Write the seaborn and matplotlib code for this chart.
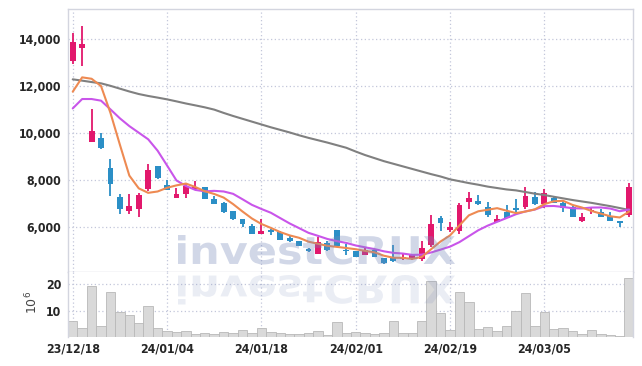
import numpy as np
import pandas as pd
import matplotlib
matplotlib.use("Agg")
import matplotlib.pyplot as plt
import seaborn as sns
from matplotlib.textpath import TextPath
from matplotlib.patches import PathPatch
from matplotlib.font_manager import FontProperties
from matplotlib.transforms import Affine2D
from matplotlib.ticker import FuncFormatter

# ---------------- data ----------------
date_labels = ["23/12/18", "24/01/04", "24/01/18", "24/02/01", "24/02/19", "24/03/05"]
date_label_pos = [0, 10, 20, 30, 40, 50]

open_ = [13066, 13617, 9626, 9796, 8522, 7265, 6696, 6781, 7631, 8594,
         7788, 7250, 7393, 7618, 7690, 7193, 7036, 6684, 6357, 6047,
         5720, 5877, 5792, 5537, 5410, 5083, 4871, 5325, 5877, 5028,
         4998, 4801, 5028, 4688, 4716, 4633, 4660, 4660, 5253, 6400,
         5890, 5834, 7053, 7108, 6867, 6230, 6654, 6824, 6854, 7292,
         6981, 7250, 7036, 6867, 6259, 6670, 6641, 6471, 6259, 6501]
high = [14254, 14539, 11002, 9996, 8878, 7393, 7393, 7461, 8666, 8600,
        8000, 7674, 7887, 7958, 7700, 7321, 7050, 6690, 6360, 6119,
        6331, 5932, 5834, 5622, 5420, 5125, 5593, 5395, 5877, 5283,
        5000, 5142, 5070, 4700, 5240, 4845, 4870, 5423, 6514, 6471,
        6230, 7011, 7490, 7350, 7079, 6501, 6926, 7180, 7690, 7478,
        7605, 7292, 7151, 6909, 6612, 6867, 6756, 6654, 6260, 7860]
low = [12925, 12840, 9626, 9329, 7321, 6556, 6556, 6442, 7546, 8030,
       7575, 7230, 7223, 7600, 7180, 6994, 6600, 6301, 6017, 5720,
       5700, 5665, 5440, 5380, 5185, 4960, 4860, 4973, 5198, 4816,
       4716, 4801, 4716, 4420, 4520, 4620, 4603, 4574, 5142, 5834,
       5805, 5707, 6756, 6950, 6416, 6200, 6399, 6570, 6756, 6926,
       6798, 7011, 6641, 6442, 6230, 6556, 6416, 6259, 6017, 6442]
close = [13846, 13775, 10080, 9371, 7817, 6781, 6896, 7363, 8425, 8098,
         7575, 7406, 7745, 7690, 7206, 6994, 6641, 6357, 6119, 5720,
         5834, 5805, 5465, 5423, 5210, 5000, 5367, 5028, 5198, 4973,
         4743, 5013, 4716, 4476, 4548, 4716, 4801, 5113, 6132, 6187,
         6004, 6939, 7236, 6994, 6514, 6344, 6400, 6726, 7321, 6981,
         7448, 7011, 6824, 6442, 6429, 6726, 6442, 6259, 6187, 7703]
volume_m = [6.0, 3.5, 19.0, 4.2, 16.8, 9.4, 8.3, 5.3, 11.6, 3.5,
            2.5, 2.0, 2.5, 1.2, 1.6, 1.2, 2.0, 1.6, 2.7, 1.6,
            3.5, 2.0, 1.6, 1.2, 1.2, 1.6, 2.5, 0.9, 5.7, 1.6,
            2.0, 1.6, 1.2, 1.6, 6.0, 1.6, 1.6, 6.0, 20.9, 9.0,
            2.7, 16.8, 13.1, 3.1, 3.8, 2.5, 4.2, 9.9, 16.4, 4.2,
            9.4, 3.1, 3.5, 2.5, 1.2, 2.7, 1.2, 0.9, 0.5, 22.0]
ma5 = [11750, 12360, 12300, 11990, 10850, 9500, 8189, 7646, 7456, 7513,
       7671, 7773, 7850, 7703, 7524, 7408, 7255, 6978, 6663, 6366,
       6134, 5967, 5789, 5649, 5547, 5381, 5293, 5206, 5161, 5113,
       5062, 4991, 4929, 4784, 4699, 4694, 4651, 4731, 5062, 5390,
       5647, 6075, 6500, 6672, 6737, 6805, 6698, 6596, 6661, 6754,
       6975, 7097, 7117, 6941, 6831, 6686, 6573, 6460, 6409, 6663]
ma10 = [11040, 11440, 11440, 11370, 11000, 10620, 10290, 10010, 9730, 9245,
        8618, 7981, 7748, 7580, 7519, 7540, 7514, 7414, 7183, 6945,
        6771, 6611, 6383, 6156, 5957, 5757, 5630, 5497, 5405, 5330,
        5221, 5142, 5067, 4972, 4906, 4878, 4821, 4830, 4923, 5045,
        5171, 5363, 5615, 5867, 6064, 6226, 6386, 6548, 6667, 6746,
        6890, 6898, 6856, 6801, 6793, 6831, 6835, 6788, 6675, 6747]
ma_long = [12276, 12220, 12160, 12106, 12000, 11880, 11760, 11652, 11570, 11500,
           11426, 11340, 11250, 11170, 11087, 10990, 10850, 10720, 10600, 10480,
           10360, 10240, 10130, 10020, 9900, 9790, 9690, 9590, 9480, 9370,
           9210, 9060, 8930, 8800, 8690, 8580, 8470, 8360, 8250, 8150,
           8030, 7950, 7870, 7800, 7720, 7660, 7600, 7560, 7490, 7420,
           7363, 7290, 7220, 7150, 7090, 7030, 6960, 6890, 6810, 6726]

df = pd.DataFrame({"i": np.arange(len(close)), "open": open_, "high": high,
                   "low": low, "close": close, "vol": volume_m,
                   "ma5": ma5, "ma10": ma10, "ma_long": ma_long})

# ---------------- style ----------------
sns.set_style("white")
plt.rcParams["font.family"] = ["DejaVu Sans"]

UP = "#e2186c"
DOWN = "#2b8fc6"
GRID = "#c3c7da"
SPINE = "#d3d5df"
TXT = "#262626"
tick_fp = dict(family="DejaVu Sans", stretch="condensed", weight="bold", size=8.8)

W, H = 642, 366
fig = plt.figure(figsize=(W / 100, H / 100), dpi=100)
left, right = 68.3, 632.5
top_p, bot_p, bot_v = 9.3, 272.0, 337.3
ax = fig.add_axes([left / W, 1 - bot_p / H, (right - left) / W, (bot_p - top_p) / H])
axv = fig.add_axes([left / W, 1 - bot_v / H, (right - left) / W, (bot_v - bot_p) / H])

# ---------------- volume ----------------
sns.barplot(data=df, x="i", y="vol", ax=axv, width=1.0, color="#d9d9d9",
            saturation=1, edgecolor="#b8b8b8", linewidth=0.6, zorder=2)

# ---------------- candles ----------------
o = df["open"].to_numpy(); c = df["close"].to_numpy()
up = c >= o
cols = np.where(up, UP, DOWN)
ax.vlines(df["i"], df["low"], df["high"], colors=cols, linewidth=1.3, zorder=3)
ax.bar(df["i"], np.maximum(np.abs(c - o), 25), bottom=np.minimum(o, c),
       width=0.62, color=cols, linewidth=0, zorder=3)

# ---------------- moving averages ----------------
sns.lineplot(data=df, x="i", y="ma_long", ax=ax, color="#808080", linewidth=1.5, zorder=4)
sns.lineplot(data=df, x="i", y="ma10", ax=ax, color="#c955ea", linewidth=1.5, zorder=4)
sns.lineplot(data=df, x="i", y="ma5", ax=ax, color="#ee8a52", linewidth=1.5, zorder=4)

# ---------------- axes cosmetics ----------------
xlim = (-0.47, 59.35)
for a in (ax, axv):
    a.set_xlim(*xlim)
    a.set_xlabel("")
    a.set_ylabel("")
    a.tick_params(length=0, pad=5, colors=TXT)
    a.set_xticks(date_label_pos)
    a.grid(True, color=GRID, linestyle=(0, (1, 2)), linewidth=0.9)
    a.set_axisbelow(True)
    for s in a.spines.values():
        s.set_color(SPINE)
        s.set_linewidth(1.0)

ax.set_ylim(4094, 15250)
ax.set_yticks([6000, 8000, 10000, 12000, 14000])
ax.yaxis.set_major_formatter(FuncFormatter(lambda v, p: f"{v:,.0f}"))
ax.tick_params(labelbottom=False)
for lab in ax.get_yticklabels():
    lab.set(**tick_fp)

axv.set_ylim(0, 24.4)
axv.set_yticks([10, 20])
axv.set_xticklabels(date_labels)
axv.spines["top"].set_visible(False)
axv.spines["bottom"].set_visible(False)
axv.tick_params(axis="x", pad=4)
for lab in axv.get_yticklabels() + axv.get_xticklabels():
    lab.set(**tick_fp)
fig.text(31.5 / W, 1 - 302 / H, r"$10^6$", rotation=90, ha="center", va="center",
         fontsize=9, color="#444444")

# ---------------- watermark (text + reflection) ----------------
fp = FontProperties(family="DejaVu Sans", weight="bold")
tp = TextPath((0, 0), "investCRUX", prop=fp, size=10)
ext = tp.get_extents()
wx0, wx1 = 178, 455
base_y, top_y = 264.5, 235.0
sx = (wx1 - wx0) / ext.width
sy = (base_y - top_y) / ext.height
tr = Affine2D().translate(-ext.x0, -ext.y0).scale(sx, sy).translate(wx0, H - base_y)
fig.add_artist(PathPatch(tp, transform=tr, facecolor="#7587b9", edgecolor="none",
                         alpha=0.33, zorder=10))
tr2 = Affine2D().translate(-ext.x0, -ext.y0).scale(sx, -sy).translate(wx0, H - 275.0)
fig.add_artist(PathPatch(tp, transform=tr2, facecolor="#7587b9", edgecolor="none",
                         alpha=0.15, zorder=10))

fig.savefig("out.png", dpi=100)
